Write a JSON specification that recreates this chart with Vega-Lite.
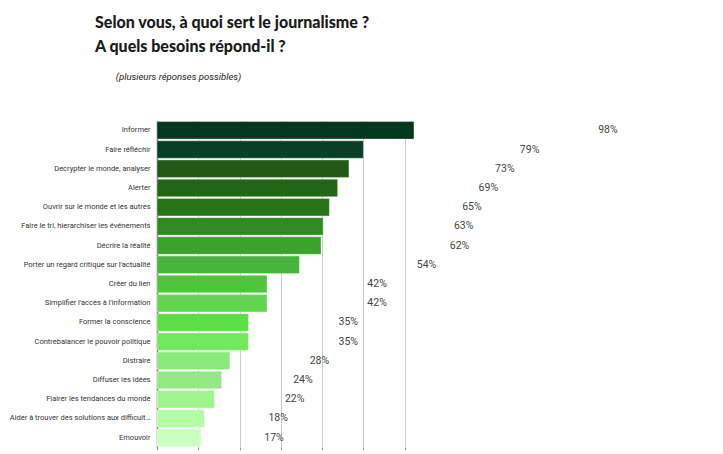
{
  "$schema": "https://vega.github.io/schema/vega-lite/v6.json",
  "autosize": {"type": "none"},
  "width": 258,
  "height": 326,
  "padding": {"left": 157, "top": 121, "right": 308, "bottom": 7},
  "background": "white",
  "title": {
    "text": ["Selon vous, à quoi sert le journalisme ?", "A quels besoins répond-il ?"],
    "subtitle": "\u200b\u2003\u2003\u2009(plusieurs réponses possibles)",
    "anchor": "start",
    "frame": "group",
    "dx": -62,
    "offset": 40,
    "font": "Lato",
    "fontSize": 16,
    "fontWeight": 900,
    "color": "#1a1a1a",
    "lineHeight": 24,
    "subtitleFont": "Roboto",
    "subtitleFontSize": 9.5,
    "subtitleFontStyle": "italic",
    "subtitleColor": "#222222",
    "subtitlePadding": 17
  },
  "data": {
    "values": [
      {"item": "Informer", "n": 124.5, "pct": 0.98, "color": "#03381e"},
      {"item": "Faire réfléchir", "n": 100, "pct": 0.79, "color": "#0a3f27"},
      {"item": "Decrypter le monde, analyser", "n": 93, "pct": 0.73, "color": "#215a14"},
      {"item": "Alerter", "n": 87.5, "pct": 0.69, "color": "#226616"},
      {"item": "Ouvrir sur le monde et les autres", "n": 83.5, "pct": 0.65, "color": "#267517"},
      {"item": "Faire le tri, hierarchiser les événements", "n": 80.5, "pct": 0.63, "color": "#2f8a22"},
      {"item": "Décrire la réalité", "n": 79.5, "pct": 0.62, "color": "#3ea02e"},
      {"item": "Porter un regard critique sur l'actualité", "n": 69, "pct": 0.54, "color": "#46b43a"},
      {"item": "Créer du lien", "n": 53.3, "pct": 0.42, "color": "#4ec53b"},
      {"item": "Simplifier l'accès à l'information", "n": 53.3, "pct": 0.42, "color": "#62d550"},
      {"item": "Former la conscience", "n": 44.3, "pct": 0.35, "color": "#5cdf44"},
      {"item": "Contrebalancer le pouvoir politique", "n": 44.3, "pct": 0.35, "color": "#72e85e"},
      {"item": "Distraire", "n": 35.3, "pct": 0.28, "color": "#8ae87c"},
      {"item": "Diffuser les idées", "n": 31.3, "pct": 0.24, "color": "#95e886"},
      {"item": "Flairer les tendances du monde", "n": 27.8, "pct": 0.22, "color": "#a0f490"},
      {"item": "Aider à trouver des solutions aux difficult…", "n": 23, "pct": 0.18, "color": "#b4fca5"},
      {"item": "Emouvoir", "n": 21.3, "pct": 0.17, "color": "#cbffc2"}
    ]
  },
  "encoding": {
    "y": {
      "field": "item",
      "type": "nominal",
      "sort": null,
      "scale": {"paddingInner": 0.09, "paddingOuter": 0.03},
      "axis": {
        "title": null,
        "ticks": false,
        "domainColor": "#666666",
        "domainWidth": 1.5,
        "labelFont": "Roboto",
        "labelFontSize": 7.5,
        "labelColor": "#333333",
        "labelPadding": 7,
        "labelLimit": 220
      }
    }
  },
  "layer": [
    {
      "mark": {"type": "bar", "stroke": "#ffffff", "strokeOpacity": 0.35, "strokeWidth": 1},
      "encoding": {
        "x": {
          "field": "n",
          "type": "quantitative",
          "scale": {"domain": [0, 125], "nice": false},
          "axis": {
            "title": null,
            "values": [0, 20, 40, 60, 80, 100, 120],
            "grid": true,
            "gridColor": "#cccccc",
            "domain": false,
            "tickColor": "#999999",
            "tickSize": 3,
            "labelFont": "Roboto",
            "labelFontSize": 7,
            "labelColor": "#444444"
          }
        },
        "color": {"field": "color", "type": "nominal", "scale": null}
      }
    },
    {
      "mark": {"type": "text", "font": "Roboto", "fontSize": 10.5, "align": "center", "baseline": "middle"},
      "encoding": {
        "x": {
          "field": "pct",
          "type": "quantitative",
          "scale": {"domain": [-0.114, 0.512], "nice": false, "zero": false},
          "axis": null
        },
        "text": {"field": "pct", "type": "quantitative", "format": ".0%"},
        "color": {"value": "#444444"}
      }
    }
  ],
  "resolve": {"scale": {"x": "independent"}},
  "config": {"view": {"stroke": null}}
}
